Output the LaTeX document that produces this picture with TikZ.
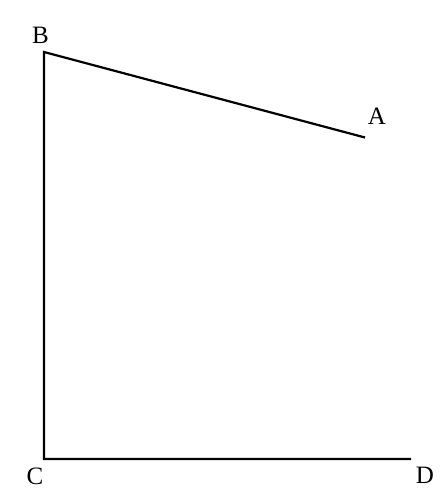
\documentclass[tikz,border=0pt]{standalone}
\usepackage{fontspec}
\setmainfont{Liberation Serif}
\begin{document}
\begin{tikzpicture}[x=1pt,y=-1pt,
  seg/.style={line width=2.2pt,line join=miter},
  lbl/.style={inner sep=0pt,font=\fontsize{25}{25}\selectfont}]
\useasboundingbox (0,0) rectangle (440,499);
\coordinate (A) at (365,137.5);
\coordinate (B) at (44,52);
\coordinate (C) at (44,459);
\coordinate (D) at (411,459);
\draw[seg] (A) -- (B) -- (C) -- (D);
\node[lbl] (lA) at (377,116.5) {A};
\node[lbl] (lB) at (40.5,35.5) {B};
\node[lbl] (lC) at (35,476.5) {C};
\node[lbl] (lD) at (425,475.5) {D};
\end{tikzpicture}
\end{document}
